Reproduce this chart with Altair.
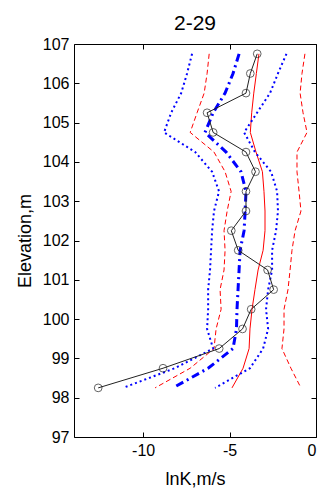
import altair as alt
import pandas as pd

elev = [106.75, 106.25, 105.75, 105.25, 104.75, 104.25, 103.75, 103.25, 102.75,
        102.25, 101.75, 101.25, 100.75, 100.25, 99.75, 99.25, 98.75, 98.25]
measured = [-3.4, -3.8, -4.05, -6.3, -5.95, -4.05, -3.5, -4.05, -4.05,
            -4.9, -4.5, -2.8, -2.45, -3.75, -4.25, -5.6, -8.85, -12.6]
red_solid = [-3.3, -3.45, -3.6, -3.72, -3.8, -3.47, -3.1, -3.01, -2.95,
             -2.95, -3.06, -3.35, -3.53, -3.7, -3.82, -3.87, -4.22, -4.86]
blue_dashdot = [-4.45, -4.8, -5.26, -5.95, -6.42, -5.2, -4.34, -4.05, -4.1,
                -4.16, -4.39, -4.45, -4.51, -4.57, -4.6, -4.8, -6.24, -8.27]
blue_dot_lo = [-7.17, -7.46, -7.8, -8.38, -8.79, -6.99, -6.01, -5.61, -5.9,
               -6.01, -6.07, -6.13, -6.24, -6.24, -6.3, -5.95, -8.17, -11.16]
blue_dot_hi = [-1.71, -2.2, -2.66, -3.41, -4.16, -3.53, -2.6, -2.25, -2.2,
               -2.31, -2.54, -2.54, -2.77, -2.89, -2.77, -3.06, -3.82, -5.84]
red_dash_lo = [-6.18, -6.3, -6.47, -6.88, -7.28, -5.9, -5.26, -4.91, -5.14,
               -5.32, -5.26, -5.32, -5.55, -5.49, -5.78, -5.9, -7.28, -9.31]
red_dash_hi = [-0.64, -0.81, -0.92, -0.75, -0.52, -1.1, -1.1, -0.98, -0.87,
               -1.21, -1.39, -1.5, -1.62, -1.85, -1.85, -1.97, -1.45, -0.87]

x_ticks = [-10, -5, 0]
y_ticks = [97, 98, 99, 100, 101, 102, 103, 104, 105, 106, 107]

series = {
    "measured": measured,
    "red_solid": red_solid,
    "blue_dashdot": blue_dashdot,
    "blue_dot_lo": blue_dot_lo,
    "blue_dot_hi": blue_dot_hi,
    "red_dash_lo": red_dash_lo,
    "red_dash_hi": red_dash_hi,
}
rows = []
for name, vals in series.items():
    for i, (e, v) in enumerate(zip(elev, vals)):
        rows.append({"s": name, "idx": i, "elev": e, "lnk": v})
df = pd.DataFrame(rows)

xscale = alt.Scale(domain=[-14, 0], nice=False, zero=False)
yscale = alt.Scale(domain=[97, 107], nice=False, zero=False)

FONT = "Liberation Sans"
common = dict(tickColor="black", tickWidth=1, grid=False, domain=False,
              labelFont=FONT, labelFontSize=16, labelColor="black",
              titleFont=FONT, titleFontSize=18, titleFontWeight="normal", titleColor="black")

main_x = alt.Axis(orient="bottom", values=x_ticks, offset=-5, tickSize=5,
                  labelPadding=5, labelExpr="'' + datum.value",
                  title="lnK,m/s", titlePadding=12, **common)
main_y = alt.Axis(orient="left", values=y_ticks, offset=-5, tickSize=5,
                  labelPadding=5, labelExpr="'' + datum.value",
                  title="Elevation,m", titlePadding=8, **common)
top_x = alt.Axis(orient="top", values=x_ticks, offset=-5, tickSize=5,
                 labels=False, title=None, **common)
right_y = alt.Axis(orient="right", values=y_ticks, offset=-5, tickSize=5,
                   labels=False, title=None, **common)


def layer(name, mark, xaxis=None, yaxis=None):
    return alt.Chart(df).transform_filter(alt.datum.s == name).mark_line(**mark).encode(
        x=alt.X("lnk:Q", scale=xscale, axis=xaxis),
        y=alt.Y("elev:Q", scale=yscale, axis=yaxis),
        order="idx:Q",
    )


red = "#ff0000"
blue = "#0000ff"

l_red_solid = layer("red_solid", dict(color=red, strokeWidth=1), main_x, main_y)
l_red_dash_lo = layer("red_dash_lo", dict(color=red, strokeWidth=1, strokeDash=[5, 3]), top_x, right_y)
l_red_dash_hi = layer("red_dash_hi", dict(color=red, strokeWidth=1, strokeDash=[5, 3]))
l_dot_lo = layer("blue_dot_lo", dict(color=blue, strokeWidth=2, strokeDash=[2, 3]))
l_dot_hi = layer("blue_dot_hi", dict(color=blue, strokeWidth=2, strokeDash=[2, 3]))
l_dashdot = layer("blue_dashdot", dict(color=blue, strokeWidth=3, strokeDash=[8, 4, 2, 4]))
l_meas = layer("measured", dict(color="#222222", strokeWidth=1))
p_meas = alt.Chart(df).transform_filter(alt.datum.s == "measured").mark_point(
    shape="circle", filled=False, color="#222222", size=60, strokeWidth=1
).encode(
    x=alt.X("lnk:Q", scale=xscale, axis=None),
    y=alt.Y("elev:Q", scale=yscale, axis=None),
)

chart = alt.layer(
    l_red_solid, l_red_dash_lo, l_red_dash_hi, l_dot_lo, l_dot_hi, l_dashdot, l_meas, p_meas
).resolve_axis(x="independent", y="independent").properties(
    width=242,
    height=393,
    title=alt.TitleParams("2-29", fontSize=21, font=FONT, fontWeight="normal",
                          color="black", offset=2, anchor="middle"),
    autosize=alt.AutoSizeParams(type="none"),
    padding={"left": 74, "top": 44, "right": 6, "bottom": 57},
    background="white",
).configure_view(
    stroke="black", strokeWidth=1
)

chart.save("out.html", embed_options={"renderer": "svg", "actions": False})
